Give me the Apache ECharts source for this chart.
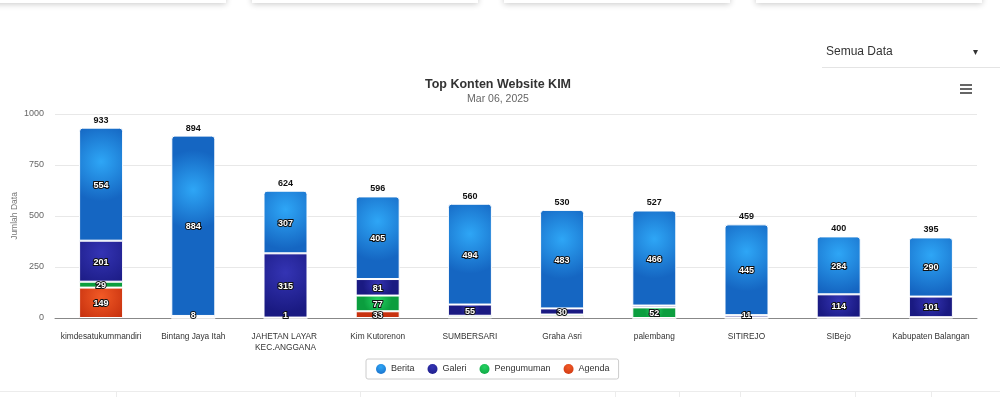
<!DOCTYPE html>
<html>
<head>
<meta charset="utf-8">
<script src="https://cdn.jsdelivr.net/npm/echarts@6/dist/echarts.min.js"></script>
<style>
html,body{margin:0;padding:0;background:#fff;}
#c{width:1000px;height:397px;}
</style>
</head>
<body>
<div id="c"></div>
<script>
var categories = ['kimdesatukummandiri','Bintang Jaya Itah','JAHETAN LAYAR KEC.ANGGANA','Kim Kutorenon','SUMBERSARI','Graha Asri','palembang','SITIREJO','SIBejo','Kabupaten Balangan'];
var berita     = [554, 884, 307, 405, 494, 483, 466, 445, 284, 290];
var galeri     = [201,   8, 315,  81,  55,  30,   9,  11, 114, 101];
var pengumuman = [ 29,   1,   1,  77,   8,   9,  52,   2,   1,   2];
var agenda     = [149,   1,   1,  33,   3,   8,   0,   1,   1,   2];
var yTicks = [0, 250, 500, 750, 1000];

var totals = categories.map(function(_, i){ return berita[i]+galeri[i]+pengumuman[i]+agenda[i]; });

var GRID_TOP = 114, GRID_BOTTOM = 79, H = 397;
var plotBottom = H - GRID_BOTTOM;

function grad(c1, c2){
  return {type:'radial', x:0.5, y:0.3, r:0.9, colorStops:[{offset:0,color:c1},{offset:1,color:c2}]};
}
var ff = 'Liberation Sans, Arial, sans-serif';
var segLabel = {show:true, position:'inside', color:'#fff', fontSize:9, fontWeight:'bold',
  fontFamily:ff, textBorderColor:'#111', textBorderWidth:2};

function mk(name, data, c1, c2, radius){
  return {name:name, type:'bar', stack:'s', data:data, barWidth:44,
    itemStyle:{color:grad(c1,c2), borderColor:'#fff', borderWidth:1, borderRadius:radius||0},
    label:Object.assign({}, segLabel, {formatter:function(p){ return p.value>0 ? p.value : ''; }}),
    labelLayout:function(params){
      var r = params.labelRect;
      var cx = r.x + r.width/2;
      var cy = r.y + r.height/2 + 1;
      return {hideOverlap:true, x: cx, y: Math.min(cy, plotBottom - 2), align:'center', verticalAlign:'middle'};
    },
    emphasis:{disabled:true}
  };
}

var chart = echarts.init(document.getElementById('c'), null, {renderer:'canvas'});
chart.setOption({
  animation:false,
  textStyle:{fontFamily:ff},
  title:{text:'Top Konten Website KIM', subtext:'Mar 06, 2025', left:493, textAlign:'center', top:73, itemGap:3,
    textStyle:{fontSize:12.5, fontWeight:'bold', color:'#333', fontFamily:ff},
    subtextStyle:{fontSize:10.5, color:'#666', fontFamily:ff}},
  legend:{data:['Berita','Galeri','Pengumuman','Agenda'], left:366, top:359, icon:'circle', itemWidth:10, itemHeight:10,
    itemGap:13, itemStyle:{borderWidth:0}, padding:[5,9,5,10], borderColor:'#ccc', borderWidth:1, borderRadius:2,
    textStyle:{fontSize:9, color:'#333', fontFamily:ff}},
  grid:{left:55, right:23, top:GRID_TOP, bottom:GRID_BOTTOM, outerBoundsMode:'none', containLabel:false},
  xAxis:{type:'category', data:categories,
    axisLine:{lineStyle:{color:'#888', width:1}}, axisTick:{show:false},
    axisLabel:{interval:0, fontSize:8.3, color:'#333', margin:13, width:82, overflow:'break', lineHeight:11, fontFamily:ff}},
  yAxis:{type:'value', min:yTicks[0], max:yTicks[yTicks.length-1], interval:250,
    name:'Jumlah Data', nameLocation:'middle', nameGap:36, nameRotate:90, nameMoveOverlap:false,
    nameTextStyle:{fontSize:8.5, color:'#777', fontFamily:ff},
    axisLabel:{fontSize:9, color:'#666', margin:11, fontFamily:ff, formatter:function(v){ return String(v); }},
    splitLine:{lineStyle:{color:'#e8e8e8'}}, axisLine:{show:false}, axisTick:{show:false}},
  series:[
    mk('Agenda', agenda, '#f25a26', '#c8320f'),
    mk('Pengumuman', pengumuman, '#24d262', '#0b9e3e'),
    mk('Galeri', galeri, '#3434b4', '#1a1a82'),
    mk('Berita', berita, '#2ea6f6', '#1566c2', [3,3,0,0]),
    {name:'Total', type:'bar', stack:'s', barWidth:44, data:categories.map(function(){return 0;}), silent:true,
      itemStyle:{color:'transparent'},
      label:{show:true, position:'top', distance:3, fontSize:9, fontWeight:'bold', color:'#111', fontFamily:ff,
        formatter:function(p){ return totals[p.dataIndex]; }}}
  ],
  graphic:[
    {type:'rect', shape:{x:-20,y:-12,width:246,height:15}, style:{fill:'#fff', shadowBlur:6, shadowColor:'rgba(0,0,0,0.22)', shadowOffsetY:1}},
    {type:'rect', shape:{x:252,y:-12,width:226,height:15}, style:{fill:'#fff', shadowBlur:6, shadowColor:'rgba(0,0,0,0.22)', shadowOffsetY:1}},
    {type:'rect', shape:{x:504,y:-12,width:226,height:15}, style:{fill:'#fff', shadowBlur:6, shadowColor:'rgba(0,0,0,0.22)', shadowOffsetY:1}},
    {type:'rect', shape:{x:756,y:-12,width:226,height:15}, style:{fill:'#fff', shadowBlur:6, shadowColor:'rgba(0,0,0,0.22)', shadowOffsetY:1}},
    {type:'text', left:826, top:46, style:{text:'Semua Data', fontSize:12, fill:'#333', fontFamily:ff}},
    {type:'text', left:973, top:47, style:{text:'▾', fontSize:10, fill:'#333', fontFamily:'DejaVu Sans'}},
    {type:'line', shape:{x1:822,y1:67.5,x2:1000,y2:67.5}, style:{stroke:'#e4e4e4', lineWidth:1}},
    {type:'rect', shape:{x:960,y:84,width:12,height:2}, style:{fill:'#666'}},
    {type:'rect', shape:{x:960,y:88,width:12,height:2}, style:{fill:'#666'}},
    {type:'rect', shape:{x:960,y:92,width:12,height:2}, style:{fill:'#666'}},
    {type:'line', shape:{x1:0,y1:391.5,x2:1000,y2:391.5}, style:{stroke:'#ececec', lineWidth:1}},
    {type:'line', shape:{x1:116.5,y1:392,x2:116.5,y2:397}, style:{stroke:'#ececec', lineWidth:1}},
    {type:'line', shape:{x1:360.5,y1:392,x2:360.5,y2:397}, style:{stroke:'#ececec', lineWidth:1}},
    {type:'line', shape:{x1:615.5,y1:392,x2:615.5,y2:397}, style:{stroke:'#ececec', lineWidth:1}},
    {type:'line', shape:{x1:679.5,y1:392,x2:679.5,y2:397}, style:{stroke:'#ececec', lineWidth:1}},
    {type:'line', shape:{x1:740.5,y1:392,x2:740.5,y2:397}, style:{stroke:'#ececec', lineWidth:1}},
    {type:'line', shape:{x1:855.5,y1:392,x2:855.5,y2:397}, style:{stroke:'#ececec', lineWidth:1}},
    {type:'line', shape:{x1:931.5,y1:392,x2:931.5,y2:397}, style:{stroke:'#ececec', lineWidth:1}}
  ]
});
</script>
</body>
</html>
